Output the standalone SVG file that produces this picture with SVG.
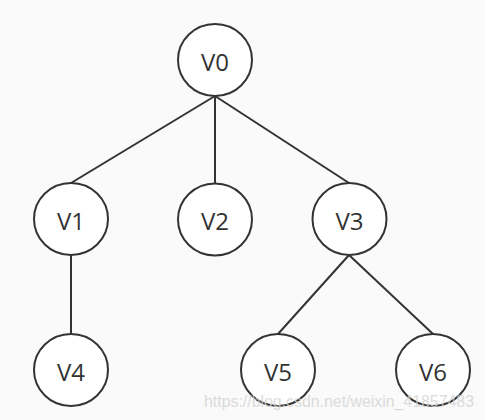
<svg xmlns="http://www.w3.org/2000/svg" width="485" height="420" viewBox="0 0 485 420">
<style>
.n ellipse{fill:#fff;stroke:#333;stroke-width:2}
.n text{font-family:"Open Sans","Noto Sans",sans-serif;font-size:24px;fill:#333;text-anchor:middle;dominant-baseline:central}
#edges line{stroke:#333;stroke-width:2}
.wm{font-family:"Liberation Sans",Arial,sans-serif;font-size:16px;fill:#d4d4d4;opacity:0.8}
</style>
<rect width="485" height="420" fill="#fafafa"/>
<g id="edges">
<line x1="215" y1="96" x2="71" y2="183"/>
<line x1="215" y1="96" x2="215" y2="184"/>
<line x1="215" y1="96" x2="349" y2="183"/>
<line x1="71" y1="255" x2="71" y2="334"/>
<line x1="349" y1="255" x2="278" y2="334"/>
<line x1="349" y1="255" x2="433" y2="334"/>
</g>
<g id="V0" class="n"><ellipse cx="215" cy="60" rx="37" ry="36"/><text x="215" y="61">V0</text></g>
<g id="V1" class="n"><ellipse cx="71" cy="219" rx="37" ry="36"/><text x="71" y="220">V1</text></g>
<g id="V2" class="n"><ellipse cx="215" cy="219.5" rx="37" ry="36"/><text x="215" y="220.5">V2</text></g>
<g id="V3" class="n"><ellipse cx="349.5" cy="219" rx="37" ry="36"/><text x="349.5" y="220">V3</text></g>
<g id="V4" class="n"><ellipse cx="71" cy="370" rx="37" ry="36"/><text x="71" y="371">V4</text></g>
<g id="V5" class="n"><ellipse cx="278" cy="370" rx="37" ry="36"/><text x="278" y="371">V5</text></g>
<g id="V6" class="n"><ellipse cx="433" cy="370" rx="37" ry="36"/><text x="433" y="371">V6</text></g>
<text class="wm" x="204" y="407" textLength="270" lengthAdjust="spacingAndGlyphs">https://blog.csdn.net/weixin_41857483</text>
</svg>
